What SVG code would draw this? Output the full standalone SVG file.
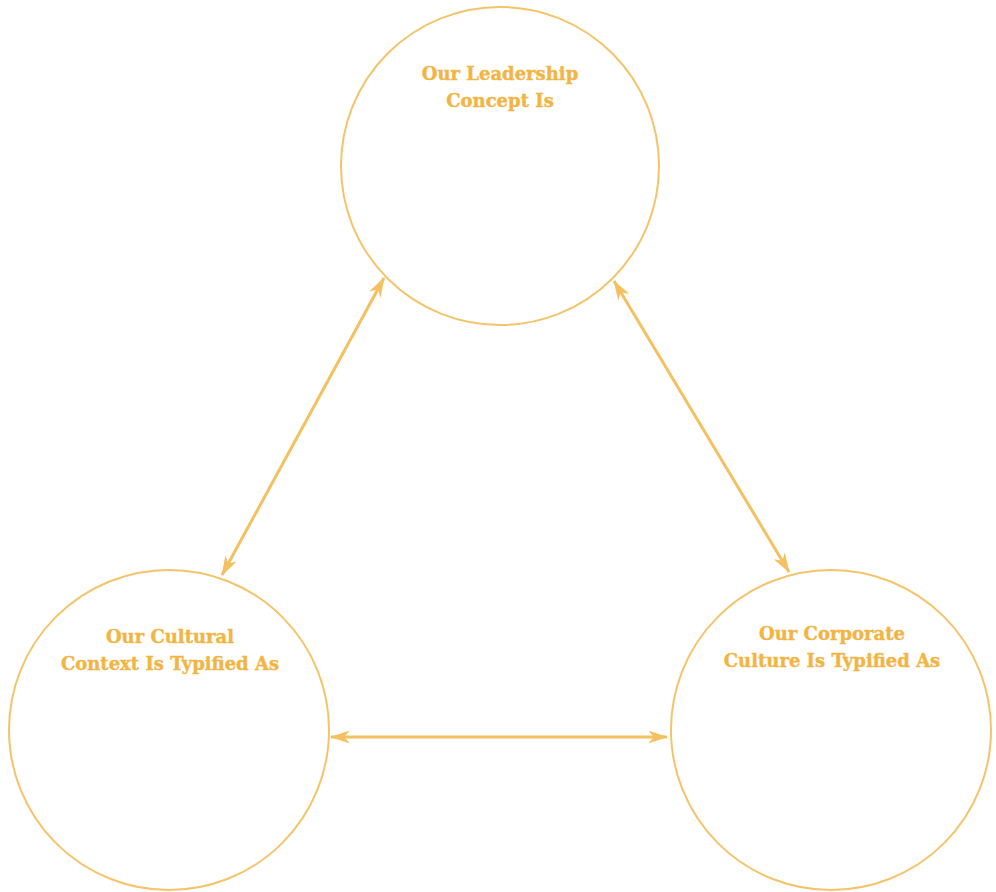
<svg xmlns="http://www.w3.org/2000/svg" width="996" height="892" viewBox="0 0 996 892">
  <style>
    .ring { fill: none; stroke: #F4C46A; stroke-width: 2; }
    .link { fill: none; stroke: #F4C060; stroke-width: 3; }
    .label { font-family: "DejaVu Serif", "Liberation Serif", serif; font-weight: bold; font-size: 18px; fill: #F2B544; stroke: #F2B544; stroke-width: 0.4; text-anchor: middle; }
  </style>
  <defs>
    <marker id="tip" viewBox="0 0 20 13" refX="19" refY="6.5" markerWidth="20" markerHeight="13" markerUnits="userSpaceOnUse" orient="auto-start-reverse">
      <path d="M0,0 L20,6.5 L0,13 L6,6.5 Z" fill="#F4C060"/>
    </marker>
  </defs>
  <rect width="996" height="892" fill="#FFFFFF"/>

  <g id="connectors">
    <line class="link" x1="222" y1="575" x2="384" y2="278" marker-start="url(#tip)" marker-end="url(#tip)"/>
    <line class="link" x1="614" y1="281" x2="789" y2="572" marker-start="url(#tip)" marker-end="url(#tip)"/>
    <line class="link" x1="331" y1="737" x2="667" y2="737" marker-start="url(#tip)" marker-end="url(#tip)"/>
  </g>

  <g id="leadership">
    <circle class="ring" cx="500" cy="166" r="159"/>
    <text class="label" x="500" y="80">Our Leadership</text>
    <text class="label" x="500" y="107">Concept Is</text>
  </g>

  <g id="cultural-context">
    <circle class="ring" cx="169" cy="730" r="160"/>
    <text class="label" x="170" y="643">Our Cultural</text>
    <text class="label" x="170" y="670">Context Is Typified As</text>
  </g>

  <g id="corporate-culture">
    <circle class="ring" cx="831" cy="730" r="160"/>
    <text class="label" x="832" y="640">Our Corporate</text>
    <text class="label" x="832" y="667">Culture Is Typified As</text>
  </g>
</svg>
